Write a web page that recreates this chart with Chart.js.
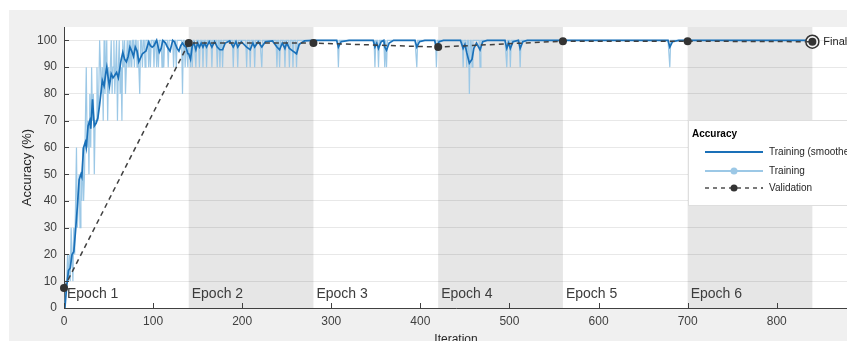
<!DOCTYPE html>
<html>
<head>
<meta charset="utf-8">
<script src="https://cdn.jsdelivr.net/npm/chart.js@4"></script>
<style>
  html, body { margin: 0; padding: 0; background: #fff; overflow: hidden; }
  #wrap { position: relative; width: 870px; height: 352px; }
</style>
</head>
<body>
<div id="wrap"><canvas id="acc" width="870" height="352"></canvas></div>
<script>
// Training progress: accuracy per iteration, 6 epochs of 140 iterations
const epochStarts = [0, 140, 280, 420, 560, 700, 840];
const epochNames = ['Epoch 1', 'Epoch 2', 'Epoch 3', 'Epoch 4', 'Epoch 5', 'Epoch 6'];
const shadedEpochs = [1, 3, 5];
const xTicks = [0, 100, 200, 300, 400, 500, 600, 700, 800];
const yTicks = [0, 10, 20, 30, 40, 50, 60, 70, 80, 90, 100];

// raw mini-batch accuracy, epoch 1, one char per iteration (x10 %, A = 100)
const trainRawEpoch1 =
  '0112121321' + '3246345354' + '6457967586' + '978577978A' + '9897A89A79' +
  '89A89A89A7' + '9A897A9A89' + 'A9A9A9AA9A' + 'A9A98AA9AA' + '9AAA9A9AAA' +
  '9AA9A9AAA9' + 'A9AAAA9AAA' + 'AA9AA9AAAA' + 'AA8AA9AA9A';
// after epoch 1 the raw accuracy sits at 100 except these iterations
const trainRawDips = [
  [142, 90], [144, 90], [148, 90], [152, 90], [156, 90], [160, 90], [166, 90],
  [172, 90], [175, 90], [178, 90], [190, 90], [195, 90], [205, 90], [209, 90],
  [214, 90], [222, 90], [239, 90], [242, 90], [248, 90], [253, 90], [257, 90],
  [261, 90], [308, 90], [349, 90], [353, 90], [360, 90], [362, 90], [396, 90],
  [418, 90], [448, 90], [452, 90], [455, 80], [458, 90], [467, 90], [497, 90],
  [501, 90], [512, 90], [680, 90]
];

const trainSmoothed = [
  [1, 0], [3, 8], [5, 14], [7, 15], [9, 20], [11, 21], [13, 29], [15, 38], [17, 48],
  [19, 50], [20, 49], [22, 60], [24, 62], [25, 60], [27, 68], [29, 70], [30, 67],
  [32, 78], [34, 68], [36, 69], [38, 71], [40, 76], [43, 85], [45, 83], [47, 88],
  [48, 90], [50, 85], [51, 83], [53, 87.5], [55, 86], [57, 87], [59, 88], [61, 86],
  [64, 92.5], [66, 95.5], [68, 93], [70, 92], [72, 94], [74, 97.5], [76, 96],
  [78, 94], [80, 97.5], [82, 96], [84, 92], [86, 93.5], [88, 95], [90, 95.5],
  [92, 96], [95, 99.4], [97, 98], [99, 97.5], [101, 98], [104, 100], [107, 95.6],
  [109, 97], [111, 100], [114, 99], [116, 97.5], [119, 96], [122, 100], [124, 99.4],
  [127, 97], [129, 96], [131, 98], [133, 99], [135, 98], [137, 97.5], [139, 95],
  [140, 95], [142, 93], [144, 98], [146, 99], [148, 96.5], [150, 99], [152, 97.5],
  [154, 99], [156, 97.5], [158, 99], [160, 97.5], [163, 99.5], [166, 97.5],
  [169, 99.5], [172, 97.5], [175, 96.5], [178, 96.5], [181, 99], [186, 99.8],
  [190, 97.5], [193, 99.5], [195, 97.5], [199, 99.5], [205, 97.5], [209, 96.5],
  [212, 99], [214, 97.5], [218, 99.5], [222, 97.5], [226, 99.5], [234, 99.8],
  [239, 97.5], [242, 96.5], [245, 99], [248, 97], [250, 99], [253, 97], [257, 96],
  [261, 95], [264, 98.5], [270, 99.8], [280, 100], [306, 100], [308, 97.5],
  [311, 99.5], [320, 100], [347, 100], [349, 97.5], [351, 99], [353, 97],
  [356, 99.5], [359, 100], [360, 97.5], [362, 96.3], [365, 99], [370, 100],
  [394, 100], [396, 97.5], [399, 99.5], [405, 100], [416, 100], [418, 97],
  [421, 99.5], [426, 100], [445, 100], [448, 97], [450, 98.5], [452, 95.5],
  [455, 91.5], [458, 93], [460, 97], [463, 99], [467, 96.5], [470, 99.5],
  [475, 100], [495, 100], [497, 97], [499, 99], [501, 97], [504, 99.5], [510, 100],
  [512, 97], [515, 99.5], [520, 100], [678, 100], [680, 97.5], [683, 99.5],
  [690, 100], [840, 100]
];

const validationIters = [0, 140, 280, 420, 560, 700, 840];
const validationAcc = [7.5, 99, 99, 97.5, 99.7, 99.7, 99.5];

const BLUE = '#1a70b8';
const LIGHT = '#9cc8e6';
const DARK = '#333333';
const FONT = '"Liberation Sans", Arial, sans-serif';

const trainRaw = [];
for (let i = 1; i <= 840; i++) {
  const v = i <= 140 ? parseInt(trainRawEpoch1[i - 1], 16) * 10 : 100;
  trainRaw.push({ x: i, y: v });
}
trainRawDips.forEach(([i, v]) => { trainRaw[i - 1].y = v; });

const validation = validationIters.map((x, i) => ({ x: x, y: validationAcc[i] }));
const lastVal = validation[validation.length - 1];

const backdrop = {
  id: 'backdrop',
  beforeDraw(chart) {
    const { ctx, chartArea: a, scales: { x } } = chart;
    ctx.save();
    ctx.fillStyle = '#f0f0f0';
    ctx.fillRect(9, 10, chart.width, chart.height);
    ctx.fillStyle = '#fff';
    ctx.fillRect(a.left, a.top, a.right - a.left, a.bottom - a.top);
    ctx.fillStyle = '#e6e6e6';
    shadedEpochs.forEach((e) => {
      const x0 = x.getPixelForValue(epochStarts[e]);
      const x1 = x.getPixelForValue(epochStarts[e + 1]);
      ctx.fillRect(x0, a.top, x1 - x0, a.bottom - a.top);
    });
    ctx.restore();
  },
  beforeDatasetsDraw(chart) {
    const { ctx, chartArea: a, scales: { x } } = chart;
    ctx.save();
    ctx.font = '14px ' + FONT;
    ctx.fillStyle = '#3c3c3c';
    ctx.textBaseline = 'middle';
    epochNames.forEach((name, e) => {
      ctx.fillText(name, x.getPixelForValue(epochStarts[e]) + 3, a.bottom - 14);
    });
    ctx.restore();
  },
  afterDraw(chart) {
    const { ctx, chartArea: a, scales: { x, y } } = chart;
    ctx.save();
    // ticks pointing inward
    ctx.strokeStyle = '#404040';
    ctx.lineWidth = 1;
    ctx.beginPath();
    xTicks.forEach((t) => {
      const px = Math.round(x.getPixelForValue(t)) + 0.5;
      ctx.moveTo(px, a.bottom); ctx.lineTo(px, a.bottom - 5);
    });
    yTicks.forEach((t) => {
      const py = Math.round(y.getPixelForValue(t)) + 0.5;
      ctx.moveTo(a.left, py); ctx.lineTo(a.left + 5, py);
    });
    ctx.stroke();

    // Final label
    ctx.font = '11px ' + FONT;
    ctx.fillStyle = '#222';
    ctx.textBaseline = 'middle';
    ctx.fillText('Final', x.getPixelForValue(lastVal.x) + 11, y.getPixelForValue(lastVal.y));

    // legend
    const lx = 688, ly = 120;
    ctx.fillStyle = '#fff';
    ctx.fillRect(lx, ly, 200, 85);
    ctx.strokeStyle = '#dedede';
    ctx.strokeRect(lx + 0.5, ly + 0.5, 200, 85);
    ctx.fillStyle = '#000';
    ctx.font = 'bold 10px ' + FONT;
    ctx.fillText('Accuracy', lx + 4, ly + 14);
    const rows = [
      { label: 'Training (smoothed)', color: BLUE, dash: [], dot: false, yy: 152 },
      { label: 'Training', color: LIGHT, dash: [], dot: true, yy: 171 },
      { label: 'Validation', color: DARK, dash: [4, 4], dot: true, yy: 188 }
    ];
    ctx.font = '10px ' + FONT;
    rows.forEach((r) => {
      ctx.strokeStyle = r.color;
      ctx.lineWidth = r.dash.length ? 1.3 : 2;
      ctx.setLineDash(r.dash);
      ctx.beginPath();
      ctx.moveTo(705, r.yy); ctx.lineTo(763, r.yy);
      ctx.stroke();
      ctx.setLineDash([]);
      if (r.dot) {
        ctx.fillStyle = r.color;
        ctx.beginPath();
        ctx.arc(734, r.yy, 3.5, 0, Math.PI * 2);
        ctx.fill();
      }
      ctx.fillStyle = '#262626';
      ctx.fillText(r.label, 769, r.yy);
    });
    ctx.restore();
  }
};

new Chart(document.getElementById('acc'), {
  type: 'line',
  data: {
    datasets: [
      {
        label: 'Validation',
        data: validation,
        order: 0,
        borderColor: '#404040',
        borderWidth: 1.5,
        borderDash: [5, 4],
        pointRadius: 4,
        pointBackgroundColor: DARK,
        pointBorderColor: DARK,
        pointBorderWidth: 0,
        clip: false
      },
      {
        label: 'Final',
        data: [lastVal],
        order: 1,
        showLine: false,
        pointRadius: 6.5,
        pointBackgroundColor: '#f4f4f4',
        pointBorderColor: DARK,
        pointBorderWidth: 1.5,
        clip: false
      },
      {
        label: 'Training (smoothed)',
        data: trainSmoothed.map(([x, y]) => ({ x: x, y: y })),
        order: 2,
        borderColor: BLUE,
        borderWidth: 1.7,
        pointRadius: 0,
        tension: 0
      },
      {
        label: 'Training',
        data: trainRaw,
        order: 3,
        borderColor: LIGHT,
        borderWidth: 1.2,
        pointRadius: 0,
        tension: 0
      }
    ]
  },
  options: {
    responsive: false,
    animation: false,
    events: [],
    layout: { padding: { left: 0, top: 27, right: 22, bottom: 0 } },
    plugins: { legend: { display: false }, tooltip: { enabled: false } },
    scales: {
      x: {
        type: 'linear',
        min: 0,
        max: 880,
        afterBuildTicks: (s) => { s.ticks = xTicks.map((v) => ({ value: v })); },
        afterFit: (s) => { s.height = 44; },
        grid: { color: 'transparent', drawTicks: false },
        border: { color: '#404040', width: 1 },
        ticks: { padding: 6, color: '#404040', font: { family: FONT, size: 12 }, maxRotation: 0 },
        title: { display: true, text: 'Iteration', color: '#262626', font: { family: FONT, size: 12 }, padding: { top: 0, bottom: 5 } }
      },
      y: {
        min: 0,
        max: 105,
        afterBuildTicks: (s) => { s.ticks = yTicks.map((v) => ({ value: v })); },
        afterFit: (s) => { s.width = 64; },
        grid: { color: 'rgba(0,0,0,0.09)', drawTicks: false },
        border: { color: '#404040', width: 1 },
        ticks: { padding: 7, color: '#404040', font: { family: FONT, size: 12 } },
        title: { display: true, text: 'Accuracy (%)', color: '#262626', font: { family: FONT, size: 13 }, padding: { top: 20, bottom: 0 } }
      }
    }
  },
  plugins: [backdrop]
});
</script>
</body>
</html>
